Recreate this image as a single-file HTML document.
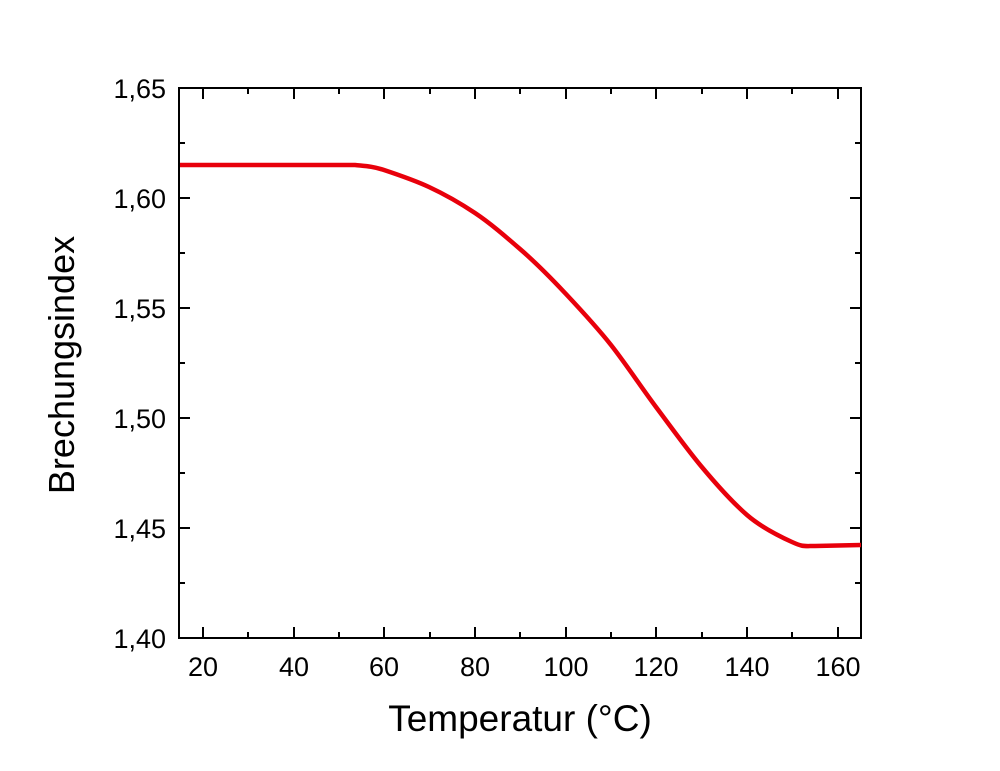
<!DOCTYPE html>
<html><head><meta charset="utf-8"><style>body{margin:0;background:#fff}</style></head><body>
<svg width="1000" height="766" xmlns="http://www.w3.org/2000/svg" font-family="Liberation Sans, Arial, sans-serif">
<rect width="1000" height="766" fill="#fff"/>
<g stroke="#000" stroke-width="2" fill="none">
<rect x="179" y="88" width="682" height="550"/>
<path d="M203,638v-11M294,638v-11M384,638v-11M475,638v-11M566,638v-11M656,638v-11M747,638v-11M838,638v-11
M248,638v-6M339,638v-6M430,638v-6M520,638v-6M611,638v-6M702,638v-6M792,638v-6
M203,88v11M294,88v11M384,88v11M475,88v11M566,88v11M656,88v11M747,88v11M838,88v11
M248,88v6M339,88v6M430,88v6M520,88v6M611,88v6M702,88v6M792,88v6"/>
<path d="M179,198h11M179,308h11M179,418h11M179,528h11M179,143h6M179,253h6M179,363h6M179,473h6M179,583h6
M861,198h-11M861,308h-11M861,418h-11M861,528h-11M861,143h-6M861,253h-6M861,363h-6M861,473h-6M861,583h-6"/>
</g>
<path d="M180,165 L355,165 C364,166 372,166 384,170 C396,174 414,180 429,187 C444,194 460,203 475,213 C490,223 505,236 520,249 C535,262 550,277 565,293 C580,309 596,326 611,345 C626,364 641,387 656,407 C671,427 686,448 701,466 C716,484 732,502 747,515 C762,528 781,537 792,542 C803,547 803,546 815,546 L861,545" stroke="#e8000b" stroke-width="4.5" fill="none" stroke-linejoin="round"/>
<g font-size="27" fill="#000" text-anchor="end">
<text x="166" y="98">1,65</text><text x="166" y="208">1,60</text><text x="166" y="318">1,55</text>
<text x="166" y="428">1,50</text><text x="166" y="538">1,45</text><text x="166" y="648">1,40</text>
</g>
<g font-size="27" fill="#000" text-anchor="middle">
<text x="203" y="676">20</text><text x="294" y="676">40</text><text x="384" y="676">60</text><text x="475" y="676">80</text>
<text x="566" y="676">100</text><text x="656" y="676">120</text><text x="747" y="676">140</text><text x="838" y="676">160</text>
</g>
<text x="520" y="731" font-size="37" text-anchor="middle">Temperatur (°C)</text>
<text transform="translate(74,365) rotate(-90)" font-size="36" text-anchor="middle">Brechungsindex</text>
</svg>
</body></html>
